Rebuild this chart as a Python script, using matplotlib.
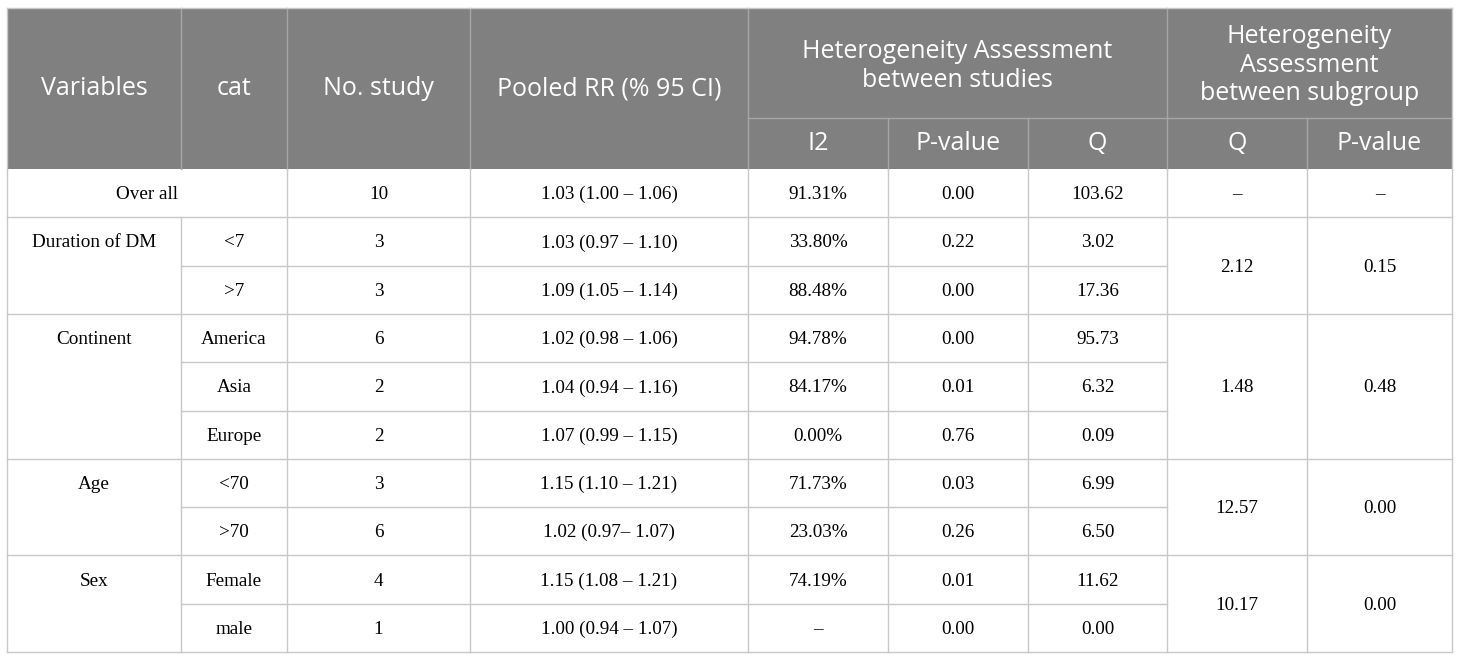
import matplotlib.pyplot as plt

# Table data
groups = ["Over all", "Duration of DM", "Continent", "Age", "Sex"]
group_sizes = [1, 2, 3, 2, 2]
cats = ["", "<7", ">7", "America", "Asia", "Europe", "<70", ">70", "Female", "male"]
n_study = ["10", "3", "3", "6", "2", "2", "3", "6", "4", "1"]
pooled_rr = ["1.03 (1.00 – 1.06)", "1.03 (0.97 – 1.10)", "1.09 (1.05 – 1.14)",
             "1.02 (0.98 – 1.06)", "1.04 (0.94 – 1.16)", "1.07 (0.99 – 1.15)",
             "1.15 (1.10 – 1.21)", "1.02 (0.97– 1.07)", "1.15 (1.08 – 1.21)",
             "1.00 (0.94 – 1.07)"]
i2 = ["91.31%", "33.80%", "88.48%", "94.78%", "84.17%", "0.00%",
      "71.73%", "23.03%", "74.19%", "–"]
p_between = ["0.00", "0.22", "0.00", "0.00", "0.01", "0.76", "0.03", "0.26", "0.01", "0.00"]
q_between = ["103.62", "3.02", "17.36", "95.73", "6.32", "0.09", "6.99", "6.50", "11.62", "0.00"]
q_sub = ["–", "2.12", "1.48", "12.57", "10.17"]
p_sub = ["–", "0.15", "0.48", "0.00", "0.00"]

header_main = ["Variables", "cat", "No. study", "Pooled RR (% 95 CI)"]
header_studies = "Heterogeneity Assessment\nbetween studies"
header_subgroup = "Heterogeneity\nAssessment\nbetween subgroup"
sub_headers = ["I2", "P-value", "Q", "Q", "P-value"]

# Layout (pixels)
W, H = 1460, 660
xs = [7, 181, 287, 470, 748, 888, 1028, 1167, 1307, 1452]
y_top, y_split, y_head = 8, 118, 169
row_h = (652 - y_head) / len(cats)
head_col = "#808080"
head_line = "#a6a6a6"
grid = "#c8c8c8"
sans = ["Open Sans", "DejaVu Sans"]
serif = ["Liberation Serif", "DejaVu Serif"]
hs, bs = 18, 13.8
dy = 1.5  # small downward nudge for body text

fig = plt.figure(figsize=(W / 100, H / 100), dpi=100)
ax = fig.add_axes([0, 0, 1, 1])
ax.set_xlim(0, W)
ax.set_ylim(H, 0)
ax.axis("off")

def cx(a, b):
    return (xs[a] + xs[b]) / 2

def ry(i):
    return y_head + i * row_h

# Header
ax.add_patch(plt.Rectangle((xs[0], y_top), xs[-1] - xs[0], y_head - y_top,
                           facecolor=head_col, edgecolor="none"))
for k in range(1, 9):
    y0 = y_top if k in (1, 2, 3, 4, 7) else y_split
    ax.plot([xs[k], xs[k]], [y0, y_head], color=head_line, lw=1)
ax.plot([xs[4], xs[-1]], [y_split, y_split], color=head_line, lw=1)
for k, t in enumerate(header_main):
    ax.text(cx(k, k + 1), (y_top + y_head) / 2, t, color="white", fontsize=hs,
            family=sans, ha="center", va="center")
ax.text(cx(4, 7), (y_top + y_split) / 2 + 3, header_studies, color="white", fontsize=hs,
        family=sans, ha="center", va="center", linespacing=1.2)
ax.text(cx(7, 9), (y_top + y_split) / 2 + 2, header_subgroup, color="white", fontsize=hs,
        family=sans, ha="center", va="center", linespacing=1.2)
for k, t in enumerate(sub_headers):
    ax.text(cx(k + 4, k + 5), (y_split + y_head) / 2, t, color="white", fontsize=hs,
            family=sans, ha="center", va="center")

# Body
cols = [cats, n_study, pooled_rr, i2, p_between, q_between]
start = 0
for g, name in enumerate(groups):
    size = group_sizes[g]
    if g == 0:
        ax.text(cx(0, 2), ry(0) + row_h / 2 + dy, name, fontsize=bs, family=serif,
                ha="center", va="center")
    else:
        ax.text(cx(0, 1), ry(start) + row_h / 2 + dy, name, fontsize=bs, family=serif,
                ha="center", va="center")
    for r in range(start, start + size):
        for c, col in enumerate(cols):
            if g == 0 and c == 0:
                continue
            ax.text(cx(c + 1, c + 2), ry(r) + row_h / 2 + dy, col[r], fontsize=bs,
                    family=serif, ha="center", va="center")
        if r > start:
            ax.plot([xs[1], xs[7]], [ry(r), ry(r)], color=grid, lw=1)
    ymid = (ry(start) + ry(start + size)) / 2 + dy
    ax.text(cx(7, 8), ymid, q_sub[g], fontsize=bs, family=serif, ha="center", va="center")
    ax.text(cx(8, 9), ymid, p_sub[g], fontsize=bs, family=serif, ha="center", va="center")
    ax.plot([xs[0], xs[-1]], [ry(start + size), ry(start + size)], color=grid, lw=1)
    start += size

# Vertical lines in body
y_end = ry(len(cats))
for k, x in enumerate(xs):
    y0 = ry(1) if k == 1 else y_head
    ax.plot([x, x], [y0, y_end], color=grid, lw=1)
ax.plot([xs[0], xs[-1]], [y_top, y_top], color=grid, lw=1)
ax.plot([xs[0], xs[0]], [y_top, y_head], color=grid, lw=1)
ax.plot([xs[-1], xs[-1]], [y_top, y_head], color=grid, lw=1)

fig.savefig("out.png", dpi=100)
